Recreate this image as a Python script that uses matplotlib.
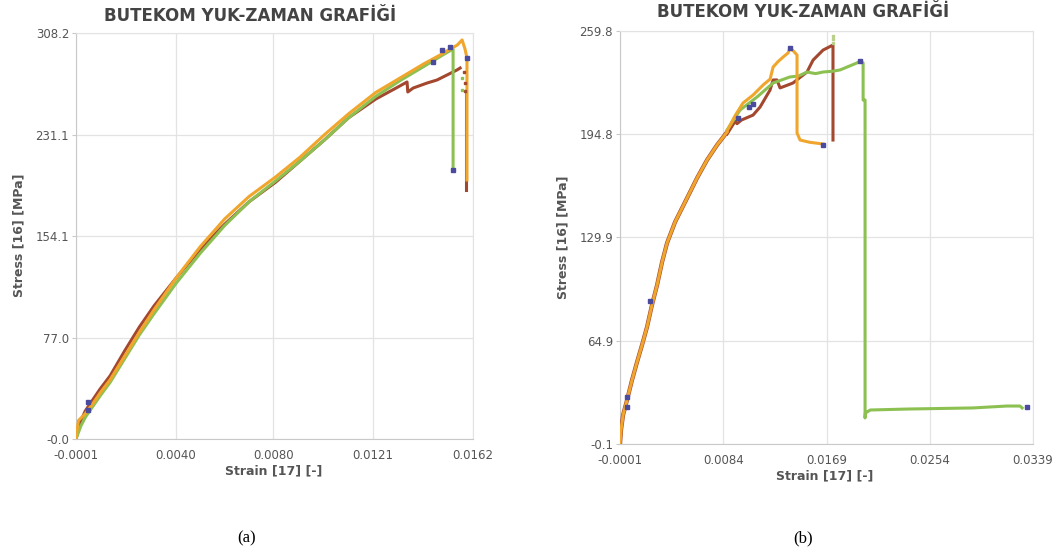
import matplotlib
matplotlib.use("Agg")
import matplotlib.pyplot as plt

# --- (a) test series ---
a_brown_x = [-0.0001, 0.00006, 0.00027, 0.00056, 0.00089, 0.0013, 0.0019, 0.0025, 0.0031, 0.0040,
             0.0050, 0.0060, 0.0070, 0.0081, 0.0091, 0.0101, 0.0111, 0.0122, 0.0130, 0.01349,
             0.01352, 0.01374, 0.01431, 0.01472, 0.01513, 0.01554, 0.01567]
a_brown_y = [0, 12, 21, 29, 38, 48, 67, 85, 101, 122,
             144, 163, 180, 195, 211, 227, 244, 258, 266, 271,
             263.4, 266.4, 270.2, 272.5, 276.3, 280.1, 281.6]
a_brown_tail_x = [0.01591, 0.01591]
a_brown_tail_y = [262.6, 189.0]

a_orange_x = [-0.0001, -0.00005, 0.0000, 0.00027, 0.00056, 0.00089, 0.0013, 0.0019, 0.0025, 0.0031,
              0.0040, 0.0050, 0.0060, 0.0070, 0.0081, 0.0091, 0.0101, 0.0111, 0.0122, 0.0132,
              0.0142, 0.0148, 0.01526, 0.01555, 0.01575, 0.0158, 0.01587, 0.01593, 0.01595, 0.01595]
a_orange_y = [0, 8, 14, 19, 26, 35, 45, 63, 81, 98,
              122, 146, 167, 184, 199, 214, 231, 247, 263, 274,
              285, 291, 296, 299, 302.9, 300, 296, 291, 288, 196.6]

a_green_x = [-0.0001, 0.0001, 0.0003, 0.0006, 0.0009, 0.0013, 0.0019, 0.0025, 0.0031, 0.0040,
             0.0050, 0.0060, 0.0070, 0.0081, 0.0091, 0.0101, 0.0111, 0.0122, 0.0132, 0.0142,
             0.0150, 0.01538, 0.01538]
a_green_y = [0, 10, 17, 25, 33, 43, 61, 79, 95, 118,
             141, 162, 180, 196, 211, 227, 244, 260, 272, 283,
             292, 296, 204.2]

a_dot_x = [0.00039, 0.00039, 0.01456, 0.01538, 0.01595, 0.01493, 0.01526]
a_dot_y = [22.0, 28.0, 286.2, 204.2, 289.2, 295.3, 297.6]
a_brown_marks_x = [0.01583, 0.01585, 0.01587]
a_brown_marks_y = [278.6, 270.0, 264.0]
a_green_marks_x = [0.01575, 0.01575]
a_green_marks_y = [274.0, 265.0]

a_xticks = [-0.0001, 0.0040, 0.0080, 0.0121, 0.0162]
a_yticks = [-0.0, 77.0, 154.1, 231.1, 308.2]

# --- (b) test series ---
b_rise_x = [-0.0001, -0.0000177, 0.000147, 0.000476, 0.000888, 0.0013, 0.00171, 0.00212, 0.00253, 0.00295,
            0.00336, 0.00377, 0.00443, 0.00542, 0.00624, 0.00706, 0.00789, 0.00871]
b_rise_y = [-0.1, 8.7, 18.1, 27.6, 40.2, 51.5, 62.2, 73.5, 87.4, 100.0,
            114.4, 126.4, 139.6, 154.7, 167.3, 178.6, 188.1, 196.2]

b_orange_x = [0.00871, 0.00937, 0.01002, 0.01085, 0.01170, 0.01225, 0.0125, 0.0129, 0.01332, 0.01373,
              0.01389, 0.01420, 0.01447, 0.01447, 0.01472, 0.0155, 0.01661]
b_orange_y = [197.0, 206.5, 214.5, 219.5, 226.0, 229.5, 237.1, 240.5, 243.4, 246.0,
              249.1, 247.0, 244.7, 195.6, 191.2, 189.8, 188.7]

b_brown_x = [0.00871, 0.00937, 0.00953, 0.00990, 0.01085, 0.01143, 0.01225, 0.0125, 0.01282, 0.01307,
             0.01360, 0.01414, 0.01470, 0.01529, 0.01579, 0.01661, 0.01743, 0.01743]
b_brown_y = [195.0, 203.0, 201.5, 203.8, 206.9, 212.0, 222.7, 229.0, 229.0, 224.0,
             225.5, 227.1, 230.5, 234.0, 241.5, 247.8, 251.0, 191.2]

b_green_x = [0.00871, 0.00978, 0.01118, 0.0125, 0.01389, 0.01460, 0.01529, 0.01600, 0.01661, 0.01740,
             0.01801, 0.0194, 0.01966, 0.01991, 0.01991, 0.02007, 0.02007, 0.0201, 0.0205,
             0.02353, 0.02896, 0.03176, 0.03283, 0.0330]
b_green_y = [197.5, 210.1, 218.3, 227.1, 230.9, 231.5, 234.0, 233.0, 234.0, 234.5,
             235.3, 239.7, 240.9, 239.7, 216.4, 216.4, 16.3, 19.4, 21.3,
             21.9, 22.6, 23.8, 23.8, 22.6]

b_dot_x = [0.000476, 0.000476, 0.00237, 0.01389, 0.01661, 0.01966, 0.0334, 0.00962, 0.01052, 0.01085]
b_dot_y = [29.5, 23.0, 90.0, 249.1, 188.0, 240.9, 23.2, 205.1, 212.0, 214.0]
b_peak_marks_x = [0.01743, 0.01743, 0.01743]
b_peak_marks_y = [252.5, 254.5, 256.5]

b_xticks = [-0.0001, 0.0084, 0.0169, 0.0254, 0.0339]
b_yticks = [-0.1, 64.9, 129.9, 194.8, 259.8]

BROWN = "#a4472f"
ORANGE = "#f0a62c"
GREEN = "#8cc152"
DOT = "#4b4b9e"
TXT = "#555555"

fig = plt.figure(figsize=(10.59, 5.58), dpi=100)
ax_a = fig.add_axes([0.0718, 0.2133, 0.3749, 0.7276])
ax_b = fig.add_axes([0.5855, 0.2043, 0.3900, 0.7401])


def style_axes(ax, xticks, yticks):
    ax.set_xlim(xticks[0], xticks[-1])
    ax.set_ylim(yticks[0], yticks[-1])
    ax.set_xticks(xticks)
    ax.set_xticklabels([f"{v:.4f}" for v in xticks])
    ax.set_yticks(yticks)
    ax.set_yticklabels([f"{v:.1f}" for v in yticks])
    ax.grid(True, color="#e3e3e3", linewidth=0.9)
    ax.set_axisbelow(True)
    for side in ax.spines.values():
        side.set_color("#e3e3e3")
    ax.spines["left"].set_color("#c9c9c9")
    ax.spines["bottom"].set_color("#c9c9c9")
    ax.tick_params(axis="x", length=0, pad=7, labelsize=8.5, labelcolor=TXT)
    ax.tick_params(axis="y", length=3, color="#c9c9c9", pad=2, labelsize=8.5, labelcolor=TXT)


style_axes(ax_a, a_xticks, a_yticks)
style_axes(ax_b, b_xticks, b_yticks)

lw = 2.2
ax_a.plot(a_brown_x, a_brown_y, color=BROWN, lw=lw, zorder=3)
ax_a.plot(a_brown_tail_x, a_brown_tail_y, color=BROWN, lw=lw, zorder=3)
ax_a.plot(a_green_x, a_green_y, color=GREEN, lw=lw, zorder=4)
ax_a.plot(a_orange_x, a_orange_y, color=ORANGE, lw=lw, zorder=5)
ax_a.plot(a_brown_marks_x, a_brown_marks_y, "s", color=BROWN, ms=2, zorder=5)
ax_a.plot(a_green_marks_x, a_green_marks_y, "s", color=GREEN, ms=2, zorder=5)
ax_a.plot(a_dot_x, a_dot_y, "s", color=DOT, ms=2.2, zorder=6)

ax_b.plot(b_rise_x, b_rise_y, color=BROWN, lw=lw + 0.8, zorder=3)
ax_b.plot(b_rise_x, b_rise_y, color=ORANGE, lw=lw, zorder=4)
ax_b.plot(b_brown_x, b_brown_y, color=BROWN, lw=lw, zorder=3)
ax_b.plot(b_green_x, b_green_y, color=GREEN, lw=lw, zorder=4)
ax_b.plot(b_orange_x, b_orange_y, color=ORANGE, lw=lw, zorder=5)
ax_b.plot(b_peak_marks_x, b_peak_marks_y, "s", color="#b9d08a", ms=2, zorder=5)
ax_b.plot(b_dot_x, b_dot_y, "s", color=DOT, ms=2.2, zorder=6)

title = "BUTEKOM YUK-ZAMAN GRAFİĞİ"
fig.text(250 / 1059, 1 - 16 / 558, title, ha="center", va="center",
         fontsize=12, fontweight="bold", color="#444444")
fig.text(803 / 1059, 1 - 12 / 558, title, ha="center", va="center",
         fontsize=12, fontweight="bold", color="#444444")

fig.text(19 / 1059, 1 - 235 / 558, "Stress [16] [MPa]", rotation=90, ha="center", va="center",
         fontsize=9, fontweight="bold", color=TXT)
fig.text(563 / 1059, 1 - 237 / 558, "Stress [16] [MPa]", rotation=90, ha="center", va="center",
         fontsize=9, fontweight="bold", color=TXT)
fig.text(274 / 1059, 1 - 471 / 558, "Strain [17] [-]", ha="center", va="center",
         fontsize=9, fontweight="bold", color=TXT)
fig.text(825 / 1059, 1 - 476 / 558, "Strain [17] [-]", ha="center", va="center",
         fontsize=9, fontweight="bold", color=TXT)

fig.text(247 / 1059, 1 - 538 / 558, "(a)", ha="center", va="center",
         fontsize=12, family="Liberation Serif", color="black")
fig.text(803 / 1059, 1 - 538 / 558, "(b)", ha="center", va="center",
         fontsize=12, family="Liberation Serif", color="black")

fig.savefig("out.png", dpi=100)
